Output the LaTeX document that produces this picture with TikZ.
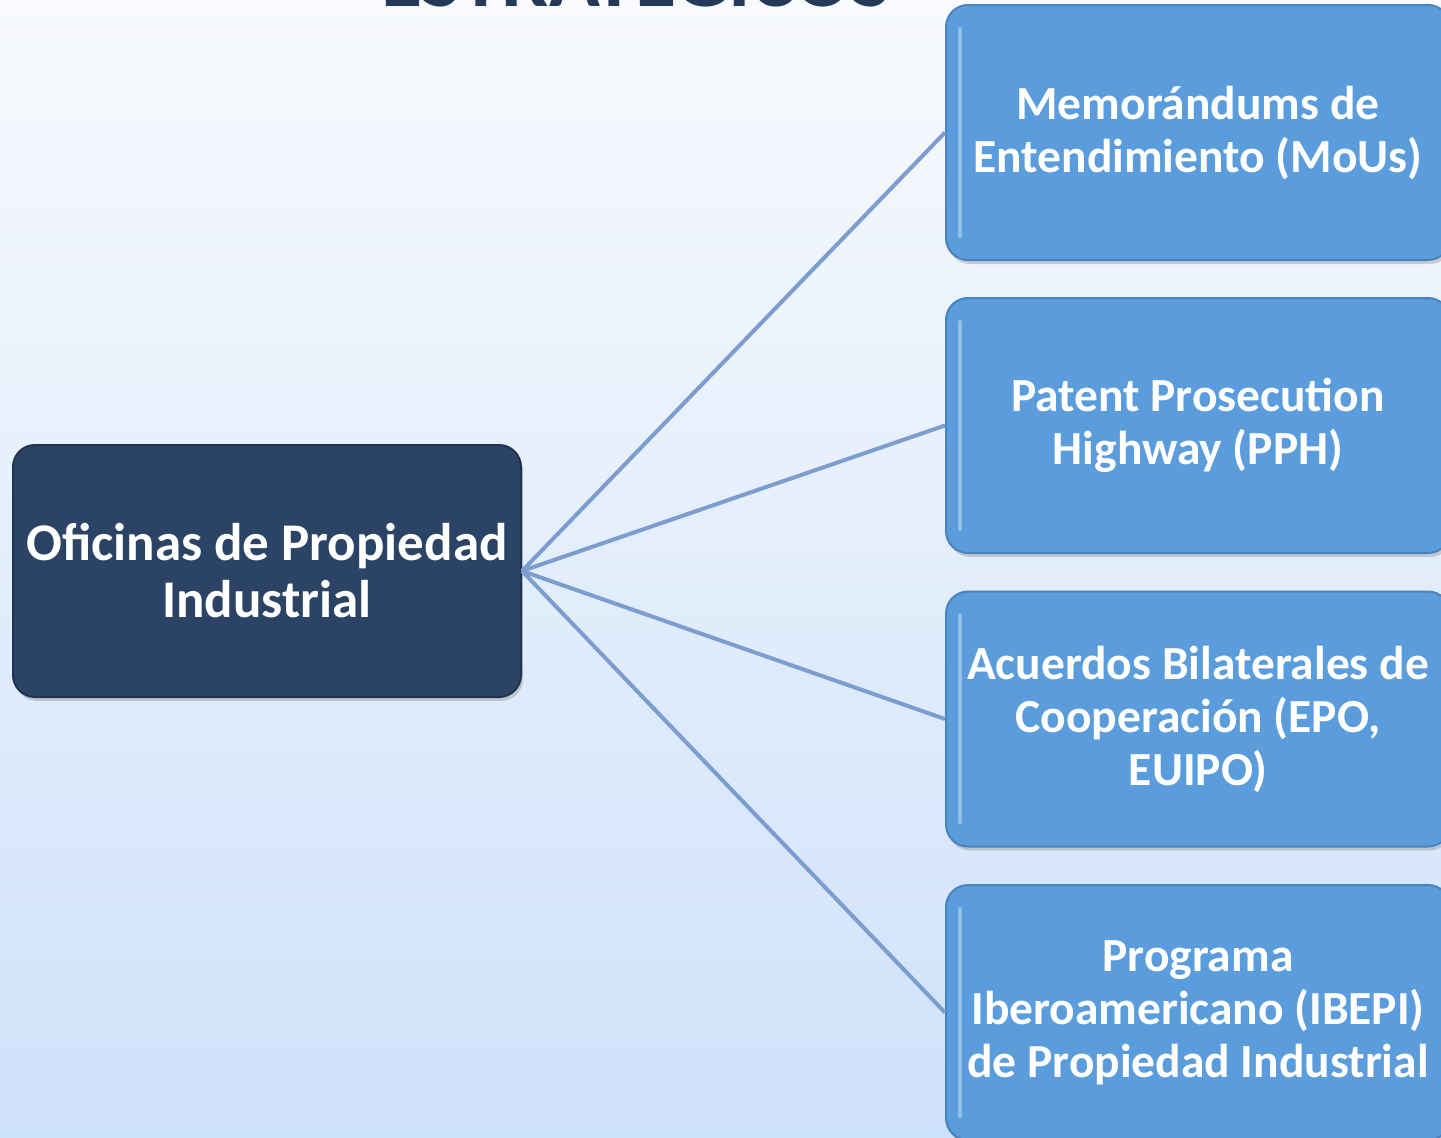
\documentclass[tikz,border=0pt]{standalone}
\usepackage{fontspec}
\setmainfont{Carlito}
\usetikzlibrary{shadows}
\definecolor{bgtop}{HTML}{F8FAFD}
\definecolor{bgbot}{HTML}{CEE1FA}
\definecolor{darkbox}{HTML}{2B4465}
\definecolor{darkedge}{HTML}{1F3350}
\definecolor{lightbox}{HTML}{5B9DDC}
\definecolor{lightedge}{HTML}{4A82BE}
\definecolor{linkcol}{HTML}{7B9DD0}
\definecolor{titlecol}{HTML}{243A58}
\tikzset{
  x=1pt, y=-1pt,
  basebox/.style={rounded corners=22pt, minimum width=504pt, minimum height=255pt,
     align=center, text=white, font=\bfseries\fontsize{47.5}{53}\selectfont,
     line width=2pt, drop shadow={shadow xshift=2pt, shadow yshift=-4pt, opacity=0.35},
     inner sep=0pt},
  hilite/.style={path picture={
     \draw[white, opacity=0.35, line width=4pt, line cap=round]
       ([xshift=14pt,yshift=-24pt]path picture bounding box.north west) --
       ([xshift=14pt,yshift=24pt]path picture bounding box.south west);}},
  rootbox/.style={basebox, fill=darkbox, draw=darkedge, minimum width=508pt, minimum height=252pt,
     font=\bfseries\fontsize{53}{57}\selectfont},
  leafbox/.style={basebox, fill=lightbox, draw=lightedge, hilite},
  link/.style={draw=linkcol, line width=4pt}
}
\begin{document}
\begin{tikzpicture}
\useasboundingbox (0,0) rectangle (1441,1138);
\clip (0,0) rectangle (1441,1138);
\shade[top color=bgtop, bottom color=bgbot] (0,0) rectangle (1441,1138);
\node[text=titlecol, font=\bfseries\fontsize{84}{96}\selectfont, anchor=base] (title) at (636,6) {ESTRATÉGICOS};
\node[rootbox] (root) at (267,571) {Oficinas de Propiedad\\Industrial};
\node[leafbox] (a) at (1198,132.5) {Memorándums de\\Entendimiento (MoUs)};
\node[leafbox] (b) at (1198,425.5) {Patent Prosecution\\Highway (PPH)};
\node[leafbox] (c) at (1198,719) {Acuerdos Bilaterales de\\Cooperación (EPO,\\EUIPO)};
\node[leafbox] (d) at (1198,1012.5) {Programa\\Iberoamericano (IBEPI)\\de Propiedad Industrial};
\foreach \t in {a,b,c,d} \draw[link] (root.east) -- (\t.west);
\end{tikzpicture}
\end{document}
